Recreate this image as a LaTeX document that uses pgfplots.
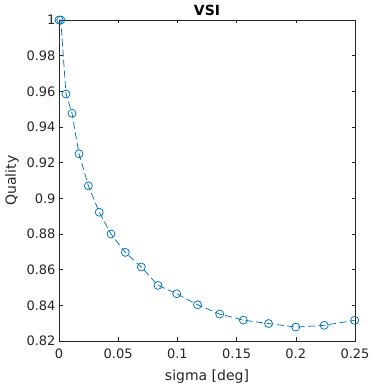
\documentclass[border=0pt]{standalone}
\usepackage{pgfplots}
\pgfplotsset{compat=1.18}
\usepackage{fontspec}
\setmainfont{DejaVu Sans}
\definecolor{mblue}{rgb}{0,0.447,0.741}
\definecolor{mgray}{rgb}{0.15,0.15,0.15}
\begin{document}
\begin{tikzpicture}
\path[use as bounding box] (-59bp,-46bp) rectangle (313bp,341bp);
\begin{axis}[
  at={(0,0)}, anchor=south west,
  scale only axis, width=296bp, height=321bp,
  xmin=0, xmax=0.25, ymin=0.82, ymax=1,
  xtick={0,0.05,0.1,0.15,0.2,0.25},
  xticklabels={0,0.05,0.1,0.15,0.2,0.25},
  ytick={0.82,0.84,0.86,0.88,0.9,0.92,0.94,0.96,0.98,1},
  yticklabels={0.82,0.84,0.86,0.88,0.9,0.92,0.94,0.96,0.98,1},
  tick align=inside, major tick length=3.5bp,
  axis line style={mgray, line width=0.6bp},
  every tick/.style={mgray, line width=0.6bp},
  tick label style={font=\fontsize{13bp}{15bp}\selectfont, text=mgray},
  xticklabel style={yshift=-4bp},
  title={\bfseries VSI},
  title style={font=\fontsize{14bp}{16bp}\selectfont, text=black, yshift=-5bp},
  xlabel={sigma [deg]},
  ylabel={Quality},
  label style={font=\fontsize{14bp}{16bp}\selectfont, text=mgray},
  xlabel style={yshift=-5bp},
  ylabel style={yshift=1bp},
  clip=false,
]
\addplot[mblue, line width=0.75bp, dash pattern=on 7bp off 3.5bp, mark=o, mark size=4bp, mark options={solid, line width=0.75bp}]
coordinates {
(0,1.0) (0.0015,1.0) (0.0059,0.9585) (0.011,0.9477) (0.0169,0.925) (0.0248,0.907)
(0.034,0.8922) (0.0439,0.880) (0.056,0.8697) (0.0695,0.8615) (0.0836,0.8512)
(0.0994,0.8465) (0.117,0.8403) (0.1357,0.8351) (0.1557,0.8317) (0.177,0.8298)
(0.1999,0.8278) (0.224,0.8288) (0.2497,0.8316)
};
\end{axis}
\end{tikzpicture}
\end{document}
